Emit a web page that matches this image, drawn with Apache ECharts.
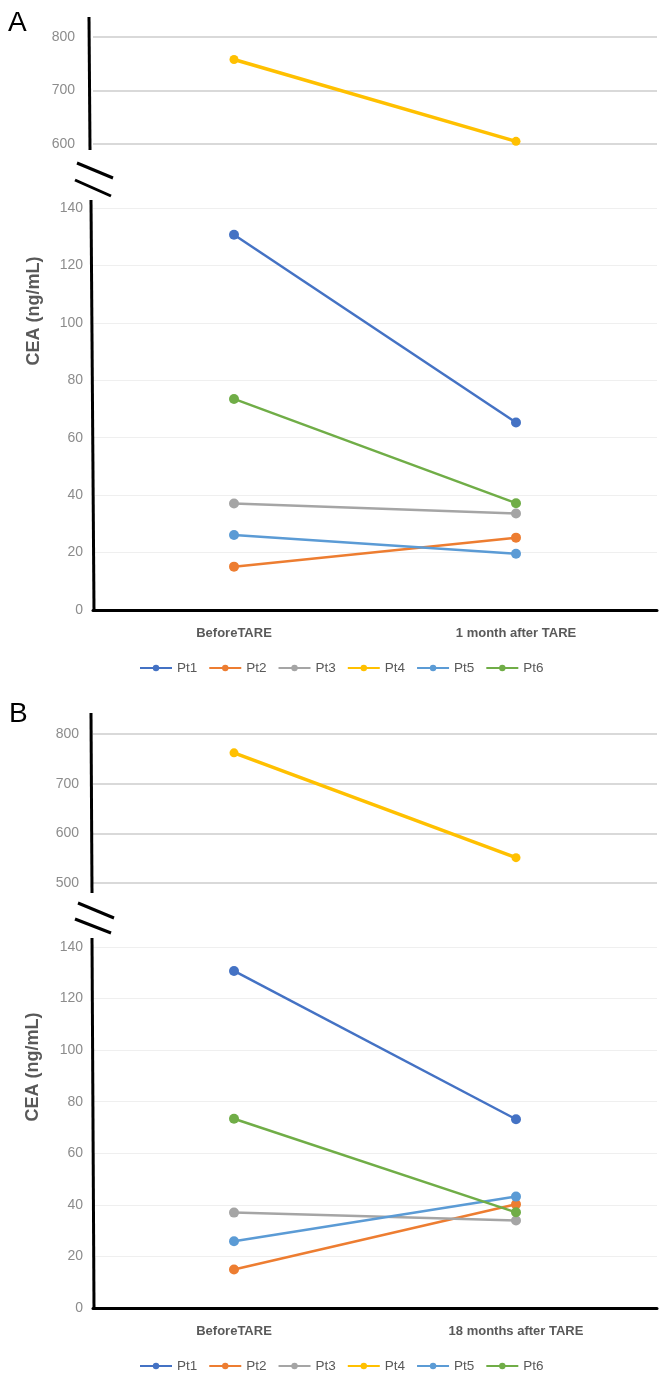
<!DOCTYPE html>
<html>
<head>
<meta charset="utf-8">
<script src="https://cdn.jsdelivr.net/npm/echarts@6/dist/echarts.min.js"></script>
<style>
html,body{margin:0;padding:0;background:#fff;}
#chart{width:669px;height:1373px;}
</style>
</head>
<body>
<div id="chart"></div>
<script>
// ---- data ----
const categoriesA = ['BeforeTARE', '1 month after TARE'];
const categoriesB = ['BeforeTARE', '18 months after TARE'];
const seriesNames = ['Pt1', 'Pt2', 'Pt3', 'Pt4', 'Pt5', 'Pt6'];
const seriesColors = ['#4472C4', '#ED7D31', '#A5A5A5', '#FFC000', '#5B9BD5', '#70AD47'];

// Panel A (before, 1 month after)
const pt1A = [130.7, 65.3];
const pt2A = [15.1, 25.2];
const pt3A = [37.1, 33.6];
const pt4A = [758, 605];
const pt5A = [26.1, 19.6];
const pt6A = [73.5, 37.2];

// Panel B (before, 18 months after)
const pt1B = [130.7, 73.2];
const pt2B = [14.9, 40.2];
const pt3B = [37.0, 33.9];
const pt4B = [762, 551];
const pt5B = [25.9, 43.2];
const pt6B = [73.4, 37.1];

// tick settings
const topTicksA = [600, 700, 800];
const topTicksB = [500, 600, 700, 800];
const lowerTicks = [0, 20, 40, 60, 80, 100, 120, 140];

// ---- styling helpers ----
const labelGray = '#8c8c8c';
const textDark = '#595959';
const fontFam = '"Liberation Sans", Arial, sans-serif';

const chart = echarts.init(document.getElementById('chart'), null, {renderer: 'canvas'});

const grids = [
  {left: 93, right: 12, top: 37, height: 107},    // A top
  {left: 93, right: 12, top: 208, height: 402},   // A lower
  {left: 93, right: 12, top: 734, height: 149},   // B top
  {left: 93, right: 12, top: 947, height: 361}    // B lower
];

function topX(idx, cats) {
  return {gridIndex: idx, type: 'category', data: cats, show: false};
}
function lowerX(idx, cats) {
  return {
    gridIndex: idx, type: 'category', data: cats,
    axisLine: {show: true, lineStyle: {color: '#000', width: 3}},
    axisTick: {show: false},
    axisLabel: {color: textDark, fontSize: 13, fontWeight: 'bold', fontFamily: fontFam, margin: 17}
  };
}
function yAx(idx, ticks, margin, splitColor, splitWidth) {
  return {
    gridIndex: idx, type: 'value',
    min: ticks[0], max: ticks[ticks.length - 1], interval: ticks[1] - ticks[0],
    axisLine: {show: false}, axisTick: {show: false},
    axisLabel: {color: labelGray, fontSize: 14, fontFamily: fontFam, margin: margin},
    splitLine: {show: true, lineStyle: {color: splitColor, width: splitWidth}}
  };
}

const series = [];
const dataA = [pt1A, pt2A, pt3A, pt4A, pt5A, pt6A];
const dataB = [pt1B, pt2B, pt3B, pt4B, pt5B, pt6B];
function addSeries(dataArr, topIdx, lowIdx) {
  dataArr.forEach((d, i) => {
    const isTop = seriesNames[i] === 'Pt4';
    const gi = isTop ? topIdx : lowIdx;
    series.push({
      name: seriesNames[i], type: 'line',
      xAxisIndex: gi, yAxisIndex: gi,
      data: d,
      symbol: 'circle', symbolSize: isTop ? 9 : 10,
      itemStyle: {color: seriesColors[i]},
      lineStyle: {color: seriesColors[i], width: isTop ? 3.5 : 2.5},
      animation: false, z: 3
    });
  });
}
addSeries(dataA, 0, 1);
addSeries(dataB, 2, 3);

function legendAt(top) {
  return {
    data: seriesNames, top: top, left: 134,
    itemWidth: 32, itemHeight: 8, itemGap: 11,
    textStyle: {color: textDark, fontSize: 13.5, fontFamily: fontFam},
    selectedMode: false
  };
}

function vline(x1, y1, x2, y2) {
  return {type: 'line', shape: {x1, y1, x2, y2}, style: {stroke: '#000', lineWidth: 3}, z: 10, silent: true};
}
function ytitle(x, y) {
  return {type: 'text', x: x, y: y, rotation: Math.PI / 2,
    style: {text: 'CEA (ng/mL)', fill: textDark, font: 'bold 18px ' + fontFam, textAlign: 'center', textVerticalAlign: 'middle'}};
}
function letter(t, x, y) {
  return {type: 'text', x: x, y: y, style: {text: t, fill: '#000', font: '28px ' + fontFam, textAlign: 'left', textVerticalAlign: 'top'}};
}

const option = {
  backgroundColor: '#fff',
  animation: false,
  grid: grids,
  xAxis: [topX(0, categoriesA), lowerX(1, categoriesA), topX(2, categoriesB), lowerX(3, categoriesB)],
  yAxis: [
    yAx(0, topTicksA, 18, '#d9d9d9', 2),
    yAx(1, lowerTicks, 10, '#efefef', 1),
    yAx(2, topTicksB, 14, '#d9d9d9', 2),
    yAx(3, lowerTicks, 10, '#efefef', 1)
  ],
  legend: [legendAt(656), legendAt(1354)],
  series: series,
  graphic: [
    letter('A', 8, 9),
    letter('B', 9, 700),
    // vertical axis lines (with break)
    vline(89, 17, 90, 150),
    vline(91, 200, 94, 611),
    vline(91, 713, 92, 893),
    vline(92, 938, 94, 1309),
    // break marks
    vline(77, 163, 113, 178), vline(75, 180, 111, 196),
    vline(78, 903, 114, 918), vline(75, 919, 111, 933),
    ytitle(34, 311),
    ytitle(33, 1067)
  ]
};
chart.setOption(option);
</script>
</body>
</html>
